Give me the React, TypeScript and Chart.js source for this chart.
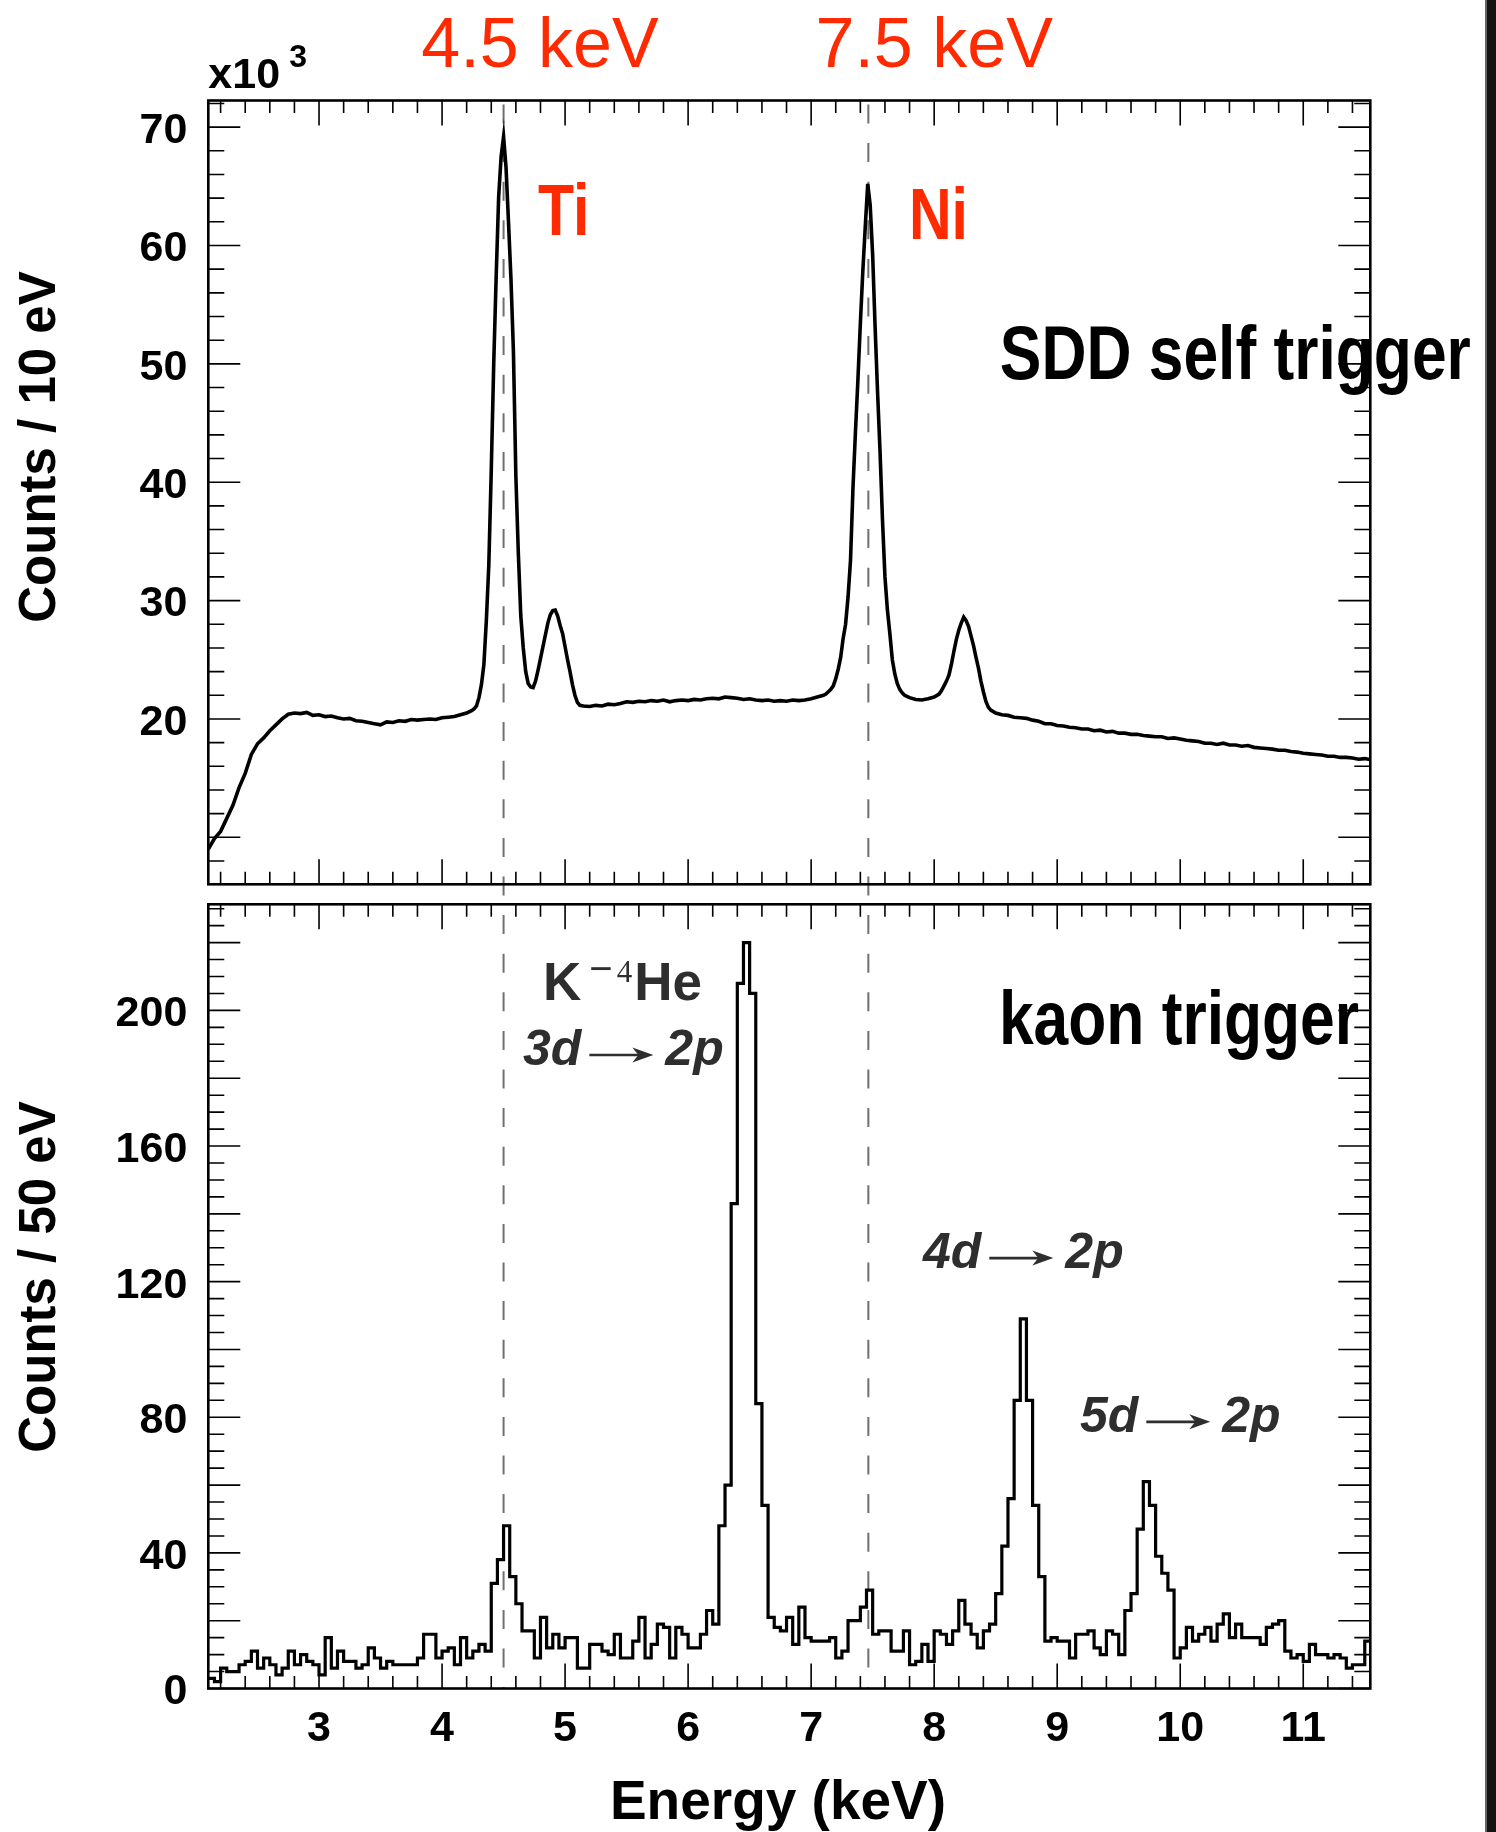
import React, { useEffect, useRef } from "react";
import { Chart, registerables } from "chart.js";

Chart.register(...registerables);

// ---------------- data ----------------
// Upper panel: SDD self trigger spectrum, counts / 10 eV in units of 10^3
const topEnergyKeV = [
  2.10, 2.15, 2.20, 2.25, 2.30, 2.35, 2.40, 2.45, 2.50, 2.55,
  2.60, 2.65, 2.70, 2.75, 2.80, 2.85, 2.90, 2.95, 3.00, 3.05,
  3.10, 3.15, 3.20, 3.25, 3.30, 3.35, 3.40, 3.45, 3.50, 3.55,
  3.60, 3.65, 3.70, 3.75, 3.80, 3.85, 3.90, 3.95, 4.00, 4.05,
  4.10, 4.15, 4.20, 4.22, 4.24, 4.26, 4.28, 4.30, 4.32, 4.34,
  4.36, 4.38, 4.40, 4.42, 4.44, 4.46, 4.48, 4.50, 4.52, 4.54,
  4.56, 4.58, 4.60, 4.62, 4.64, 4.66, 4.68, 4.70, 4.72, 4.74,
  4.76, 4.78, 4.80, 4.82, 4.84, 4.86, 4.88, 4.90, 4.92, 4.94,
  4.96, 4.98, 5.00, 5.02, 5.04, 5.06, 5.08, 5.10, 5.12, 5.15,
  5.20, 5.25, 5.30, 5.35, 5.40, 5.45, 5.50, 5.55, 5.60, 5.65,
  5.70, 5.75, 5.80, 5.85, 5.90, 5.95, 6.00, 6.05, 6.10, 6.15,
  6.20, 6.25, 6.30, 6.35, 6.40, 6.45, 6.50, 6.55, 6.60, 6.65,
  6.70, 6.75, 6.80, 6.85, 6.90, 6.95, 7.00, 7.05, 7.10, 7.12,
  7.14, 7.16, 7.18, 7.20, 7.22, 7.24, 7.26, 7.28, 7.30, 7.32,
  7.34, 7.36, 7.38, 7.40, 7.42, 7.44, 7.46, 7.48, 7.50, 7.52,
  7.54, 7.56, 7.58, 7.60, 7.62, 7.64, 7.66, 7.68, 7.70, 7.72,
  7.74, 7.76, 7.80, 7.85, 7.90, 7.95, 8.00, 8.04, 8.06, 8.08,
  8.10, 8.12, 8.14, 8.16, 8.18, 8.20, 8.22, 8.24, 8.26, 8.28,
  8.30, 8.32, 8.34, 8.36, 8.38, 8.40, 8.42, 8.44, 8.46, 8.50,
  8.55, 8.60, 8.65, 8.70, 8.75, 8.80, 8.85, 8.90, 8.95, 9.00,
  9.05, 9.10, 9.15, 9.20, 9.25, 9.30, 9.35, 9.40, 9.45, 9.50,
  9.55, 9.60, 9.65, 9.70, 9.75, 9.80, 9.85, 9.90, 9.95, 10.00,
  10.05, 10.10, 10.15, 10.20, 10.25, 10.30, 10.35, 10.40, 10.45, 10.50,
  10.55, 10.60, 10.65, 10.70, 10.75, 10.80, 10.85, 10.90, 10.95, 11.00,
  11.05, 11.10, 11.15, 11.20, 11.25, 11.30, 11.35, 11.40, 11.45, 11.50,
  11.55,
];
const topCountsK = [
  9.0, 9.9, 10.5, 11.6, 12.7, 14.2, 15.4, 17.0, 17.9, 18.4,
  19.0, 19.5, 20.0, 20.4, 20.5, 20.45, 20.55, 20.3, 20.35, 20.2,
  20.25, 20.1, 20.0, 20.05, 19.85, 19.8, 19.7, 19.6, 19.5, 19.75,
  19.7, 19.85, 19.8, 19.95, 19.9, 19.95, 20.0, 19.95, 20.1, 20.15,
  20.2, 20.35, 20.5, 20.6, 20.7, 20.85, 21.1, 21.8, 22.9, 24.6,
  28.3, 33.0, 41.0, 50.0, 57.4, 64.1, 67.5, 69.2, 66.6, 62.0,
  57.2, 51.1, 40.5, 34.0, 28.7, 26.0, 24.0, 23.0, 22.7, 22.65,
  23.2, 24.1, 25.1, 26.1, 27.1, 28.1, 28.8, 29.15, 29.2, 28.7,
  27.9, 27.2, 26.1, 25.0, 24.0, 22.9, 22.0, 21.4, 21.15, 21.1,
  21.05, 21.15, 21.1, 21.25, 21.2, 21.3, 21.45, 21.4, 21.5, 21.45,
  21.55, 21.5, 21.6, 21.45, 21.55, 21.6, 21.55, 21.65, 21.6, 21.7,
  21.75, 21.7, 21.85, 21.8, 21.75, 21.65, 21.7, 21.6, 21.55, 21.6,
  21.5, 21.55, 21.5, 21.6, 21.55, 21.6, 21.7, 21.85, 22.0, 22.1,
  22.3, 22.5, 22.8, 23.4, 24.2, 25.2, 26.8, 28.0, 30.3, 33.4,
  39.5, 44.2, 48.6, 53.4, 57.8, 61.6, 65.2, 63.4, 59.2, 53.1,
  47.6, 42.6, 36.8, 32.0, 29.2, 27.2, 25.0, 23.8, 23.0, 22.5,
  22.2, 22.0, 21.8, 21.65, 21.6, 21.7, 21.85, 22.1, 22.4, 22.8,
  23.2, 23.7, 24.6, 25.7, 26.7, 27.5, 28.1, 28.6, 28.3, 27.8,
  27.0, 26.2, 25.2, 24.3, 23.2, 22.3, 21.5, 21.0, 20.75, 20.5,
  20.35, 20.3, 20.15, 20.1, 20.05, 19.9, 19.8, 19.6, 19.6, 19.45,
  19.4, 19.3, 19.25, 19.15, 19.15, 19.0, 19.05, 18.9, 18.95, 18.8,
  18.8, 18.7, 18.7, 18.6, 18.55, 18.5, 18.5, 18.35, 18.4, 18.3,
  18.2, 18.15, 18.1, 17.95, 17.95, 17.85, 17.95, 17.8, 17.8, 17.7,
  17.75, 17.6, 17.55, 17.5, 17.45, 17.35, 17.35, 17.25, 17.2, 17.1,
  17.05, 17.0, 16.95, 16.85, 16.85, 16.75, 16.75, 16.7, 16.6, 16.65,
  16.55,
];

// Lower panel: kaon trigger histogram, counts / 50 eV
const histLowKeV = 2.1;
const histBinKeV = 0.05;
const histCounts = [
  3, 2, 6, 5, 5, 7, 8, 11, 6, 9,
  7, 4, 6, 11, 7, 10, 8, 7, 4, 15,
  6, 11, 8, 8, 6, 7, 12, 9, 6, 8,
  7, 7, 7, 7, 9, 16, 16, 9, 11, 12,
  7, 15, 9, 11, 13, 11, 31, 38, 48, 33,
  25, 17, 17, 9, 21, 12, 16, 12, 15, 15,
  6, 6, 13, 13, 11, 10, 16, 9, 9, 14,
  21, 9, 13, 19, 18, 9, 18, 16, 12, 12,
  16, 23, 19, 48, 60, 143, 208, 220, 205, 84,
  54, 21, 18, 17, 21, 13, 24, 15, 14, 14,
  14, 15, 9, 11, 20, 20, 24, 29, 16, 17,
  17, 11, 11, 17, 7, 8, 13, 8, 17, 16,
  13, 17, 26, 19, 16, 12, 17, 19, 28, 42,
  56, 85, 109, 85, 54, 33, 14, 15, 14, 14,
  9, 16, 16, 17, 12, 10, 17, 16, 10, 23,
  28, 47, 61, 54, 39, 34, 29, 9, 12, 18,
  14, 16, 18, 14, 19, 22, 15, 19, 15, 15,
  15, 13, 18, 19, 20, 11, 9, 10, 8, 13,
  10, 10, 9, 10, 9, 6, 7, 7, 14,
];

const refLineKeV = [4.5, 7.465];
const xRangeKeV = [2.1, 11.545];
const topYRange = [6.03, 72.25];
const bottomYRange = [0, 231.3];
const xTickLabels = [3, 4, 5, 6, 7, 8, 9, 10, 11];
const topYTickLabels = [20, 30, 40, 50, 60, 70];
const bottomYTickLabels = [0, 40, 80, 120, 160, 200];

// ---------------- layout / style ----------------
const PAGE_W = 1496;
const PAGE_H = 1832;
const FRAME_LEFT = 208.3;
const FRAME_RIGHT = 1370.3;
const TOP_CANVAS_H = 894;
const TOP_FRAME_TOP = 100.5;
const TOP_FRAME_BOTTOM = 884.3;
const BOT_CANVAS_TOP = 894;
const BOT_CANVAS_H = PAGE_H - BOT_CANVAS_TOP;
const BOT_FRAME_TOP = 904.3 - BOT_CANVAS_TOP;
const BOT_FRAME_BOTTOM = 1688.5 - BOT_CANVAS_TOP;
const DASH = [19, 19.6];
const DASH_START_PAGE_Y = 104.5;
const RED = "#ff2a00";
const SANS = '"Liberation Sans", Arial, Helvetica, sans-serif';
const SERIF = '"Liberation Serif", "Times New Roman", serif';
const LABEL_FONT = { family: SANS, size: 43, weight: "bold" as const };

function fillCondensed(ctx: CanvasRenderingContext2D, text: string, x: number, y: number, font: string, sx = 0.82) {
  ctx.save();
  ctx.translate(x, y);
  ctx.scale(sx, 1);
  ctx.font = font;
  ctx.textAlign = "left";
  ctx.fillText(text, 0, 0);
  ctx.restore();
}

function drawTransition(ctx: CanvasRenderingContext2D, x: number, y: number, from: string, to: string) {
  ctx.save();
  ctx.fillStyle = "#2e2e2e";
  ctx.strokeStyle = "#2e2e2e";
  ctx.font = `italic bold 50px ${SANS}`;
  ctx.textAlign = "left";
  ctx.textBaseline = "alphabetic";
  ctx.fillText(from, x, y);
  const ax = x + ctx.measureText(from).width + 8;
  const ay = y - 10;
  const len = 64;
  ctx.lineWidth = 2.6;
  ctx.beginPath();
  ctx.moveTo(ax, ay);
  ctx.lineTo(ax + len - 12, ay);
  ctx.stroke();
  ctx.beginPath();
  ctx.moveTo(ax + len, ay);
  ctx.lineTo(ax + len - 21, ay - 7.5);
  ctx.lineTo(ax + len - 15, ay);
  ctx.lineTo(ax + len - 21, ay + 7.5);
  ctx.closePath();
  ctx.fill();
  ctx.fillText(to, ax + len + 12, y);
  ctx.restore();
}

function drawFrameAndTicks(chart: any, panel: "top" | "bottom") {
  const { ctx, chartArea: a, scales } = chart;
  const xs = scales.x;
  const ys = scales.y;
  ctx.save();
  ctx.strokeStyle = "#000";
  ctx.lineWidth = 1.6;
  ctx.beginPath();
  for (let k = 11; k <= 57; k++) {
    const v = k * 0.2;
    const major = k % 5 === 0;
    const px = xs.getPixelForValue(v);
    const len = major ? 25 : 12.5;
    ctx.moveTo(px, a.bottom);
    ctx.lineTo(px, a.bottom - len);
    ctx.moveTo(px, a.top);
    ctx.lineTo(px, a.top + len);
  }
  const yVals: { v: number; major: boolean }[] = [];
  if (panel === "top") {
    for (let v = 8; v <= 72; v += 2) yVals.push({ v, major: v % 10 === 0 });
  } else {
    for (let v = 0; v <= 230; v += 5) yVals.push({ v, major: v % 20 === 0 });
  }
  for (const t of yVals) {
    const py = ys.getPixelForValue(t.v);
    const len = t.major ? 32 : 16;
    ctx.moveTo(a.left, py);
    ctx.lineTo(a.left + len, py);
    ctx.moveTo(a.right, py);
    ctx.lineTo(a.right - len, py);
  }
  ctx.stroke();
  ctx.lineWidth = 2.6;
  ctx.strokeRect(a.left, a.top, a.right - a.left, a.bottom - a.top);
  ctx.restore();
}

function panelPlugin(panel: "top" | "bottom") {
  return {
    id: "panel-" + panel,
    beforeDatasetsDraw(chart: any) {
      const { ctx, chartArea: a, scales } = chart;
      const period = DASH[0] + DASH[1];
      ctx.save();
      ctx.setLineDash(DASH);
      ctx.strokeStyle = "#707070";
      ctx.lineWidth = 2;
      let y0: number;
      let y1: number;
      if (panel === "top") {
        y0 = DASH_START_PAGE_Y;
        y1 = chart.height;
        ctx.lineDashOffset = 0;
      } else {
        y0 = 0;
        y1 = a.bottom;
        ctx.lineDashOffset = (BOT_CANVAS_TOP - DASH_START_PAGE_Y) % period;
      }
      for (const e of refLineKeV) {
        const x = scales.x.getPixelForValue(e);
        ctx.beginPath();
        ctx.moveTo(x, y0);
        ctx.lineTo(x, y1);
        ctx.stroke();
      }
      ctx.restore();
    },
    afterDraw(chart: any) {
      const { ctx, chartArea: a, scales } = chart;
      const X = (v: number) => scales.x.getPixelForValue(v);
      const Y = (v: number) => scales.y.getPixelForValue(v);
      drawFrameAndTicks(chart, panel);
      ctx.save();
      ctx.textBaseline = "alphabetic";
      if (panel === "top") {
        // energy markers
        ctx.fillStyle = RED;
        ctx.textAlign = "center";
        ctx.font = `70px ${SANS}`;
        ctx.fillText("4.5 keV", X(4.796), Y(75.08));
        ctx.fillText("7.5 keV", X(8.0), Y(75.08));
        fillCondensed(ctx, "Ti", X(4.78), Y(60.89), `bold 72px ${SANS}`);
        fillCondensed(ctx, "Ni", X(7.795), Y(60.59), `bold 72px ${SANS}`);
        ctx.fillStyle = "#000";
        fillCondensed(ctx, "SDD self trigger", X(8.534), Y(48.72), `bold 76px ${SANS}`);
        // x10^3
        ctx.textAlign = "left";
        ctx.font = `bold 43px ${SANS}`;
        ctx.fillText("x10", a.left, Y(73.3));
        ctx.font = `bold 32px ${SANS}`;
        ctx.fillText("3", a.left + 81, Y(75.05));
        // y title
        ctx.save();
        ctx.translate(55, a.top + 346.5);
        ctx.rotate(-Math.PI / 2);
        ctx.textAlign = "center";
        ctx.font = `bold 51px ${SANS}`;
        ctx.fillText("Counts / 10 eV", 0, 0);
        ctx.restore();
      } else {
        ctx.fillStyle = "#000";
        fillCondensed(ctx, "kaon trigger", X(8.526), Y(190.0), `bold 76px ${SANS}`);
        // K^- 4He
        ctx.fillStyle = "#2e2e2e";
        ctx.textAlign = "left";
        const by = Y(203.1);
        let x = X(4.821);
        ctx.font = `bold 53px ${SANS}`;
        ctx.fillText("K", x, by);
        x += ctx.measureText("K").width + 8;
        ctx.font = `40px ${SANS}`;
        ctx.fillText("\u2212", x, by - 18);
        x += ctx.measureText("\u2212").width + 4;
        ctx.font = `31px ${SERIF}`;
        ctx.fillText("4", x, by - 18);
        x += ctx.measureText("4").width + 2;
        ctx.font = `bold 53px ${SANS}`;
        ctx.fillText("He", x, by);
        drawTransition(ctx, X(4.658), Y(183.9), "3d", "2p");
        drawTransition(ctx, X(7.909), Y(124.0), "4d", "2p");
        drawTransition(ctx, X(9.185), Y(75.7), "5d", "2p");
        // y title
        ctx.fillStyle = "#000";
        ctx.save();
        ctx.translate(55, a.top + 372.7);
        ctx.rotate(-Math.PI / 2);
        ctx.textAlign = "center";
        ctx.font = `bold 51px ${SANS}`;
        ctx.fillText("Counts / 50 eV", 0, 0);
        ctx.restore();
        // x title
        ctx.textAlign = "center";
        ctx.font = `bold 55px ${SANS}`;
        ctx.fillText("Energy (keV)", a.left + 569.7, a.bottom + 130.5);
      }
      ctx.restore();
    },
  };
}

function zeroPadding(s: any) {
  s.paddingLeft = 0;
  s.paddingRight = 0;
  s.paddingTop = 0;
  s.paddingBottom = 0;
}

function makeConfig(panel: "top" | "bottom"): any {
  const isTop = panel === "top";
  const points = isTop
    ? topEnergyKeV.map((e, i) => ({ x: e, y: topCountsK[i] }))
    : [
        ...histCounts.map((c, i) => ({ x: histLowKeV + i * histBinKeV, y: c })),
        { x: histLowKeV + histCounts.length * histBinKeV, y: histCounts[histCounts.length - 1] },
      ];
  const canvasH = isTop ? TOP_CANVAS_H : BOT_CANVAS_H;
  const frameTop = isTop ? TOP_FRAME_TOP : BOT_FRAME_TOP;
  const frameBottom = isTop ? TOP_FRAME_BOTTOM : BOT_FRAME_BOTTOM;
  const yRange = isTop ? topYRange : bottomYRange;
  const yLabels = isTop ? topYTickLabels : bottomYTickLabels;
  return {
    type: "line",
    data: {
      datasets: [
        {
          data: points,
          borderColor: "#000",
          borderWidth: isTop ? 3.6 : 3.2,
          pointRadius: 0,
          fill: false,
          tension: 0,
          borderJoinStyle: "miter",
          stepped: isTop ? false : "before",
        },
      ],
    },
    options: {
      animation: false,
      responsive: false,
      devicePixelRatio: 1,
      events: [],
      layout: { padding: { left: 0, right: PAGE_W - FRAME_RIGHT, top: frameTop, bottom: 0 } },
      plugins: { legend: { display: false }, tooltip: { enabled: false }, title: { display: false } },
      scales: {
        x: {
          type: "linear",
          min: xRangeKeV[0],
          max: xRangeKeV[1],
          grid: { display: false, drawTicks: false },
          border: { display: false },
          ticks: {
            display: !isTop,
            color: "#000",
            font: LABEL_FONT,
            padding: 14.5,
            autoSkip: false,
            maxRotation: 0,
            callback: (v: any) => String(v),
          },
          afterBuildTicks: (s: any) => {
            s.ticks = xTickLabels.map((v) => ({ value: v }));
          },
          afterFit: (s: any) => {
            s.height = canvasH - frameBottom;
            zeroPadding(s);
          },
        },
        y: {
          type: "linear",
          min: yRange[0],
          max: yRange[1],
          grid: { display: false, drawTicks: false },
          border: { display: false },
          ticks: {
            color: "#000",
            font: LABEL_FONT,
            padding: 21,
            labelOffset: 4,
            autoSkip: false,
            callback: (v: any) => String(v),
          },
          afterBuildTicks: (s: any) => {
            s.ticks = yLabels.map((v) => ({ value: v }));
          },
          afterFit: (s: any) => {
            s.width = FRAME_LEFT;
            zeroPadding(s);
          },
        },
      },
    },
    plugins: [panelPlugin(panel)],
  };
}

export default function App() {
  const topRef = useRef<HTMLCanvasElement>(null);
  const botRef = useRef<HTMLCanvasElement>(null);

  useEffect(() => {
    const top = new Chart(topRef.current as HTMLCanvasElement, makeConfig("top"));
    const bot = new Chart(botRef.current as HTMLCanvasElement, makeConfig("bottom"));
    return () => {
      top.destroy();
      bot.destroy();
    };
  }, []);

  return (
    <div
      style={{
        position: "absolute",
        left: 0,
        top: 0,
        width: PAGE_W,
        height: PAGE_H,
        background: "#fff",
        overflow: "hidden",
      }}
    >
      <canvas
        ref={topRef}
        width={PAGE_W}
        height={TOP_CANVAS_H}
        style={{ position: "absolute", left: 0, top: 0, width: PAGE_W, height: TOP_CANVAS_H }}
      />
      <canvas
        ref={botRef}
        width={PAGE_W}
        height={BOT_CANVAS_H}
        style={{ position: "absolute", left: 0, top: BOT_CANVAS_TOP, width: PAGE_W, height: BOT_CANVAS_H }}
      />
      <div style={{ position: "absolute", left: 1485, top: 0, width: 2, height: PAGE_H, background: "#666" }} />
      <div style={{ position: "absolute", left: 1487, top: 0, width: 9, height: PAGE_H, background: "#141414" }} />
    </div>
  );
}
